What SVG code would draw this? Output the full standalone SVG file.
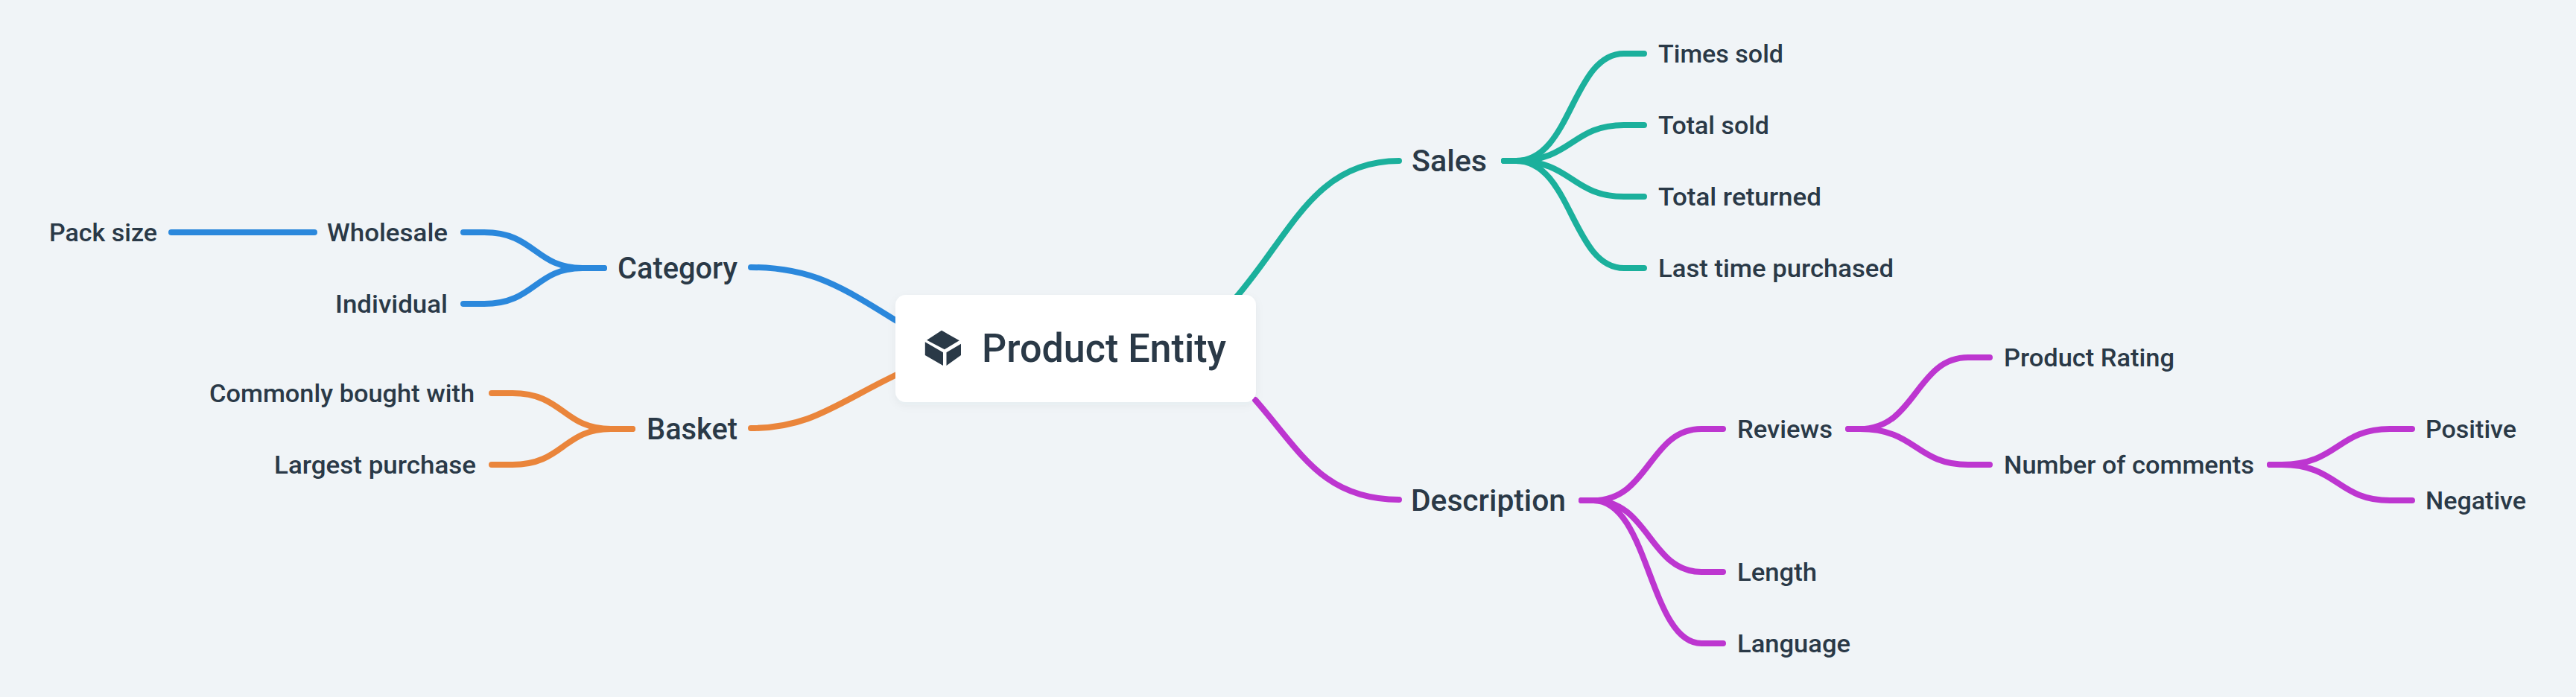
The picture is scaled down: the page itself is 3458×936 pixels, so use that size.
<svg xmlns="http://www.w3.org/2000/svg" width="3458" height="936" viewBox="0 0 3458 936">
<style>
.c{fill:none;stroke-width:8;stroke-linecap:round;stroke-linejoin:round}
.blue{stroke:#2b88dc}.orange{stroke:#ea853b}.teal{stroke:#1bb09c}.purple{stroke:#bd36d0}
text{font-family:"Roboto","Liberation Sans",sans-serif;fill:#2a3947;font-weight:500}
.l{font-size:34px}.m{font-size:40px}.r{font-size:53px}
</style>
<defs><filter id="sh" x="-10%" y="-20%" width="120%" height="140%"><feDropShadow dx="0" dy="4" stdDeviation="6" flood-color="#2a3947" flood-opacity="0.05"/></filter></defs>
<rect width="3458" height="936" fill="#f0f4f7"/>
<g id="connectors">
<path class="c teal" d="M1650 410C1730 323 1760 216 1878 216"/>
<path class="c blue" d="M1210 435C1130 385 1090 359 1008 359"/>
<path class="c orange" d="M1210 500C1125 540 1090 575 1008 575"/>
<path class="c purple" d="M1685 537C1745 605 1775 671 1878 671"/>
<path class="c blue" d="M230 312L422 312"/>
<path class="c blue" d="M622 312L650 312C718 312 718 360 782 360L811 360"/>
<path class="c blue" d="M622 408L650 408C718 408 718 360 782 360L811 360"/>
<path class="c orange" d="M660 528L688 528C756 528 756 576 820 576L849 576"/>
<path class="c orange" d="M660 624L688 624C756 624 756 576 820 576L849 576"/>
<path class="c teal" d="M2019 216L2035 216C2110 216 2110 72 2180 72L2207 72"/>
<path class="c teal" d="M2019 216L2035 216C2110 216 2110 168 2180 168L2207 168"/>
<path class="c teal" d="M2019 216L2035 216C2110 216 2110 264 2180 264L2207 264"/>
<path class="c teal" d="M2019 216L2035 216C2110 216 2110 360 2180 360L2207 360"/>
<path class="c purple" d="M2123 672L2139 672C2214 672 2214 576 2284 576L2313 576"/>
<path class="c purple" d="M2123 672L2139 672C2214 672 2214 768 2284 768L2313 768"/>
<path class="c purple" d="M2123 672L2139 672C2214 672 2214 864 2284 864L2313 864"/>
<path class="c purple" d="M2481 576L2497 576C2572 576 2572 480 2642 480L2671 480"/>
<path class="c purple" d="M2481 576L2497 576C2572 576 2572 624 2642 624L2671 624"/>
<path class="c purple" d="M3047 624L3063 624C3138 624 3138 576 3208 576L3238 576"/>
<path class="c purple" d="M3047 624L3063 624C3138 624 3138 672 3208 672L3238 672"/>
</g>
<g id="root">
<rect x="1202" y="396" width="484" height="144" rx="14" fill="#fff" filter="url(#sh)"/>
<g fill="#2a3947">
<polygon points="1264,443.7 1287.8,457.3 1267.9,469.3 1244.1,456.7"/>
<polygon points="1241.8,459.3 1266,473.3 1266,491 1241.8,477"/>
<polygon points="1270.5,473.3 1290,461.7 1290,477 1270.5,491"/>
</g>
<text class="r" x="1318" y="486" textLength="328" lengthAdjust="spacingAndGlyphs">Product Entity</text>
</g>
<g id="sales"><text class="m" x="1895" y="229.5" textLength="101" lengthAdjust="spacingAndGlyphs">Sales</text></g>
<g id="category"><text class="m" x="829" y="373.5" textLength="161" lengthAdjust="spacingAndGlyphs">Category</text></g>
<g id="basket"><text class="m" x="868" y="589.5" textLength="122" lengthAdjust="spacingAndGlyphs">Basket</text></g>
<g id="description"><text class="m" x="1894" y="685.5" textLength="208" lengthAdjust="spacingAndGlyphs">Description</text></g>
<g id="pack-size"><text class="l" x="66" y="323.5" textLength="145" lengthAdjust="spacingAndGlyphs">Pack size</text></g>
<g id="wholesale"><text class="l" x="439" y="323.5" textLength="162" lengthAdjust="spacingAndGlyphs">Wholesale</text></g>
<g id="individual"><text class="l" x="450" y="419.5" textLength="151" lengthAdjust="spacingAndGlyphs">Individual</text></g>
<g id="commonly-bought-with"><text class="l" x="281" y="539.5" textLength="356" lengthAdjust="spacingAndGlyphs">Commonly bought with</text></g>
<g id="largest-purchase"><text class="l" x="368" y="635.5" textLength="271" lengthAdjust="spacingAndGlyphs">Largest purchase</text></g>
<g id="times-sold"><text class="l" x="2226" y="83.5" textLength="168" lengthAdjust="spacingAndGlyphs">Times sold</text></g>
<g id="total-sold"><text class="l" x="2226" y="179.5" textLength="149" lengthAdjust="spacingAndGlyphs">Total sold</text></g>
<g id="total-returned"><text class="l" x="2226" y="275.5" textLength="219" lengthAdjust="spacingAndGlyphs">Total returned</text></g>
<g id="last-time-purchased"><text class="l" x="2226" y="371.5" textLength="316" lengthAdjust="spacingAndGlyphs">Last time purchased</text></g>
<g id="reviews"><text class="l" x="2332" y="587.5" textLength="128" lengthAdjust="spacingAndGlyphs">Reviews</text></g>
<g id="length"><text class="l" x="2332" y="779.5" textLength="107" lengthAdjust="spacingAndGlyphs">Length</text></g>
<g id="language"><text class="l" x="2332" y="875.5" textLength="152" lengthAdjust="spacingAndGlyphs">Language</text></g>
<g id="product-rating"><text class="l" x="2690" y="491.5" textLength="229" lengthAdjust="spacingAndGlyphs">Product Rating</text></g>
<g id="number-of-comments"><text class="l" x="2690" y="635.5" textLength="336" lengthAdjust="spacingAndGlyphs">Number of comments</text></g>
<g id="positive"><text class="l" x="3256" y="587.5" textLength="122" lengthAdjust="spacingAndGlyphs">Positive</text></g>
<g id="negative"><text class="l" x="3256" y="683.5" textLength="135" lengthAdjust="spacingAndGlyphs">Negative</text></g>
</svg>
